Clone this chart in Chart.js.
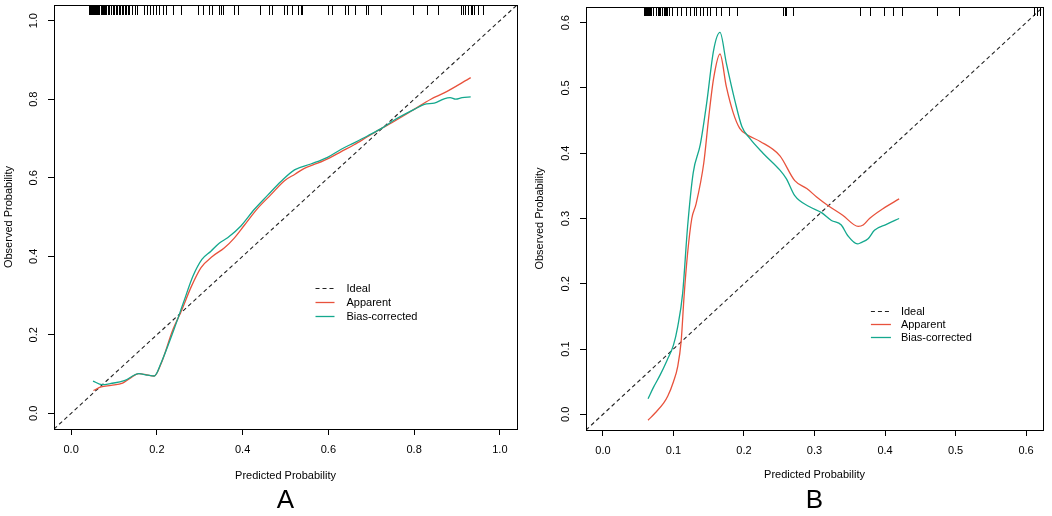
<!DOCTYPE html>
<html>
<head>
<meta charset="utf-8">
<script src="https://cdn.jsdelivr.net/npm/chart.js@4.4.1/dist/chart.umd.min.js"></script>
<style>
  html, body { margin: 0; padding: 0; background: #fff; }
  #wrap { position: relative; width: 1052px; height: 516px; overflow: hidden; }
  .pane { position: absolute; top: 0; width: 526px; height: 516px; }
</style>
</head>
<body>
<div id="wrap">
  <div class="pane" style="left:0"><canvas id="chartA" width="526" height="516"></canvas></div>
  <div class="pane" style="left:526px"><canvas id="chartB" width="526" height="516"></canvas></div>
</div>
<script>
// ---------------- Panel A data ----------------
const aTicks = [0, 0.2, 0.4, 0.6, 0.8, 1.0];
const aRange = [-0.04, 1.04];
const aAppX = [0.052, 0.070, 0.093, 0.120, 0.136, 0.158, 0.171, 0.194, 0.210, 0.237, 0.256, 0.280, 0.303, 0.330, 0.357, 0.381, 0.404, 0.435, 0.466, 0.497, 0.522, 0.544, 0.575, 0.602, 0.629, 0.660, 0.692, 0.726, 0.754, 0.800, 0.839, 0.870, 0.932];
const aAppY = [0.058, 0.067, 0.071, 0.077, 0.088, 0.101, 0.099, 0.095, 0.127, 0.212, 0.258, 0.322, 0.371, 0.400, 0.421, 0.447, 0.479, 0.522, 0.557, 0.592, 0.609, 0.624, 0.637, 0.650, 0.666, 0.684, 0.705, 0.727, 0.744, 0.774, 0.800, 0.816, 0.855];
const aBiasX = [0.051, 0.072, 0.093, 0.124, 0.158, 0.179, 0.194, 0.210, 0.240, 0.262, 0.284, 0.305, 0.326, 0.346, 0.365, 0.396, 0.427, 0.458, 0.490, 0.521, 0.559, 0.598, 0.629, 0.660, 0.692, 0.726, 0.754, 0.800, 0.824, 0.847, 0.870, 0.884, 0.897, 0.912, 0.932];
const aBiasY = [0.082, 0.073, 0.076, 0.083, 0.101, 0.097, 0.095, 0.129, 0.214, 0.282, 0.349, 0.392, 0.413, 0.434, 0.447, 0.477, 0.519, 0.555, 0.591, 0.620, 0.635, 0.652, 0.672, 0.689, 0.707, 0.727, 0.747, 0.774, 0.787, 0.790, 0.801, 0.804, 0.800, 0.804, 0.806];
const aRug = [0.042, 0.044, 0.047, 0.049, 0.051, 0.054, 0.056, 0.058, 0.061, 0.063, 0.065,
  0.070, 0.072, 0.075, 0.077, 0.079, 0.082, 0.085, 0.087, 0.089, 0.092, 0.094, 0.097, 0.099, 0.101,
  0.104, 0.106, 0.108, 0.111, 0.113, 0.115, 0.118, 0.120, 0.122, 0.126, 0.129, 0.132, 0.136,
  0.142, 0.150, 0.153, 0.171, 0.177, 0.183, 0.190, 0.197, 0.204, 0.215, 0.221, 0.238, 0.256,
  0.295, 0.307, 0.322, 0.328, 0.346, 0.350, 0.354, 0.381, 0.390, 0.441, 0.462, 0.468, 0.496, 0.503,
  0.514, 0.530, 0.535, 0.538, 0.598, 0.608, 0.639, 0.645, 0.662, 0.688, 0.692, 0.723, 0.798, 0.830,
  0.855, 0.909, 0.913, 0.918, 0.925, 0.932, 0.936, 0.940, 0.950, 0.960];

// ---------------- Panel B data ----------------
const bTicks = [0, 0.1, 0.2, 0.3, 0.4, 0.5, 0.6];
const bRange = [-0.024, 0.624];
const bAppX = [0.064, 0.074, 0.086, 0.092, 0.100, 0.106, 0.111, 0.115, 0.120, 0.126, 0.132, 0.143, 0.150, 0.157, 0.166, 0.175, 0.185, 0.194, 0.205, 0.223, 0.251, 0.272, 0.289, 0.303, 0.319, 0.340, 0.362, 0.369, 0.378, 0.397, 0.420];
const bAppY = [-0.009, 0.002, 0.017, 0.028, 0.050, 0.073, 0.113, 0.180, 0.246, 0.300, 0.322, 0.385, 0.455, 0.515, 0.552, 0.502, 0.461, 0.438, 0.428, 0.418, 0.396, 0.358, 0.346, 0.333, 0.320, 0.305, 0.288, 0.290, 0.300, 0.315, 0.330];
const bBiasX = [0.064, 0.072, 0.081, 0.091, 0.100, 0.106, 0.113, 0.120, 0.128, 0.138, 0.147, 0.157, 0.166, 0.175, 0.187, 0.197, 0.208, 0.227, 0.251, 0.260, 0.272, 0.293, 0.310, 0.324, 0.338, 0.347, 0.361, 0.366, 0.376, 0.385, 0.402, 0.420];
const bBiasY = [0.024, 0.042, 0.060, 0.083, 0.106, 0.134, 0.185, 0.287, 0.370, 0.413, 0.476, 0.558, 0.585, 0.538, 0.481, 0.441, 0.423, 0.400, 0.374, 0.361, 0.335, 0.318, 0.309, 0.297, 0.290, 0.274, 0.261, 0.263, 0.269, 0.282, 0.291, 0.300];
const bRug = [0.0585, 0.060, 0.0615, 0.063, 0.0643, 0.066, 0.0673, 0.0688, 0.0717, 0.075, 0.0783, 0.0797, 0.081,
  0.0844, 0.0868, 0.0882, 0.0896, 0.0915, 0.0938, 0.0985, 0.1056, 0.111, 0.1174, 0.123, 0.129, 0.1325,
  0.1377, 0.142, 0.147, 0.152, 0.161, 0.168, 0.179, 0.1905,
  0.256, 0.258, 0.260, 0.270, 0.364, 0.378, 0.399, 0.411, 0.424, 0.474, 0.505, 0.611, 0.615, 0.620];

const seriesNames = ['Ideal', 'Apparent', 'Bias-corrected'];
const xTitle = 'Predicted Probability';
const yTitle = 'Observed Probability';
const panelLabels = ['A', 'B'];

// ---------------- styling ----------------
const FONT = '"Liberation Sans", Arial, Helvetica, sans-serif';
const TXT = '#000';
const RED = '#E8523C';
const TEAL = '#14A88E';

const pairs = (xs, ys) => xs.map((v, i) => ({ x: v, y: ys[i] }));
const fmt = v => Number(v).toFixed(1);

const rPlot = {
  id: 'rPlot',
  afterDraw(chart, args, opts) {
    const { ctx, chartArea: ca } = chart;
    const xs = chart.scales.x, ys = chart.scales.y;
    ctx.save();
    // frame box
    ctx.strokeStyle = '#000';
    ctx.lineWidth = 1;
    ctx.setLineDash([]);
    ctx.strokeRect(Math.round(ca.left) + 0.5, Math.round(ca.top) + 0.5,
      Math.round(ca.right - ca.left), Math.round(ca.bottom - ca.top));
    // rug along the top
    ctx.beginPath();
    ctx.strokeStyle = '#000';
    opts.rug.forEach(v => {
      const px = Math.round(xs.getPixelForValue(v)) + 0.5;
      ctx.moveTo(px, ca.top);
      ctx.lineTo(px, ca.top + opts.rugLength);
    });
    ctx.stroke();
    // rotated y tick labels (R style, las = 0)
    ctx.fillStyle = TXT;
    ctx.font = '11px ' + FONT;
    ctx.textAlign = 'center';
    ctx.textBaseline = 'middle';
    ys.ticks.forEach(t => {
      const py = ys.getPixelForValue(t.value);
      ctx.save();
      ctx.translate(ca.left - opts.yLabelOffset, py);
      ctx.rotate(-Math.PI / 2);
      ctx.fillText(fmt(t.value), 0, 0);
      ctx.restore();
    });
    // legend inside plot (R legend at data coordinates)
    const L = opts.legend;
    const lx = xs.getPixelForValue(L.x);
    const ly = ys.getPixelForValue(L.y);
    chart.data.datasets.forEach((ds, i) => {
      const yy = Math.round(ly + i * L.rowGap) + 0.5;
      ctx.beginPath();
      ctx.setLineDash(ds.borderDash || []);
      ctx.strokeStyle = ds.borderColor;
      ctx.lineWidth = ds.borderWidth;
      ctx.moveTo(lx, yy);
      ctx.lineTo(lx + L.lineLen, yy);
      ctx.stroke();
      ctx.setLineDash([]);
      ctx.fillStyle = TXT;
      ctx.textAlign = 'left';
      ctx.textBaseline = 'middle';
      ctx.fillText(ds.label, lx + L.textGap, yy);
    });
    ctx.restore();
  }
};

function makeChart(id, cfg) {
  const [mn, mx] = cfg.range;
  const axisCommon = (ticksArr) => ({
    type: 'linear',
    min: mn,
    max: mx,
    afterBuildTicks: s => { s.ticks = ticksArr.map(v => ({ value: v })); },
    grid: { display: true, drawOnChartArea: false, drawTicks: true, tickLength: 6, color: '#000', lineWidth: 1 },
    border: { display: true, color: '#000', width: 1 },
  });
  return new Chart(document.getElementById(id), {
    type: 'line',
    data: {
      datasets: [
        { label: seriesNames[0], data: pairs(cfg.range, cfg.range), borderColor: '#222', borderWidth: 1.1, borderDash: [4, 3], pointRadius: 0, order: 3 },
        { label: seriesNames[1], data: pairs(cfg.appX, cfg.appY), borderColor: RED, borderWidth: 1.3, pointRadius: 0, cubicInterpolationMode: 'monotone', order: 2 },
        { label: seriesNames[2], data: pairs(cfg.biasX, cfg.biasY), borderColor: TEAL, borderWidth: 1.3, pointRadius: 0, cubicInterpolationMode: 'monotone', order: 1 },
      ]
    },
    options: {
      responsive: false,
      animation: false,
      events: [],
      layout: { padding: { top: cfg.padTop, right: 9, left: 0, bottom: 0 } },
      scales: {
        x: Object.assign(axisCommon(cfg.ticks), {
          position: 'bottom',
          ticks: { callback: v => fmt(v), autoSkip: false, maxRotation: 0, minRotation: 0, padding: 8, color: TXT, font: { family: FONT, size: 11 } },
          title: { display: true, text: xTitle, color: TXT, font: { family: FONT, size: 11 }, padding: { top: 0, bottom: cfg.xTitlePad } },
          afterFit: s => { s.height = cfg.xHeight; }
        }),
        y: Object.assign(axisCommon(cfg.ticks), {
          position: 'left',
          ticks: { display: false },
          title: { display: true, text: yTitle, color: TXT, font: { family: FONT, size: 11 }, padding: { top: cfg.yTitlePad, bottom: 0 } },
          afterFit: s => { s.width = cfg.yWidth; }
        })
      },
      plugins: {
        legend: { display: false },
        tooltip: { enabled: false },
        title: { display: true, fullSize: false, text: cfg.label, position: 'bottom', color: '#000', font: { family: FONT, size: 26, weight: 'normal' }, padding: { top: 0, bottom: 0 } },
        rPlot: { rug: cfg.rug, rugLength: cfg.rugLength, yLabelOffset: 20, legend: cfg.legend }
      }
    },
    plugins: [rPlot]
  });
}

makeChart('chartA', {
  range: aRange, ticks: aTicks, appX: aAppX, appY: aAppY, biasX: aBiasX, biasY: aBiasY, rug: aRug,
  label: panelLabels[0], padTop: 5, xHeight: 55.8, yWidth: 54, xTitlePad: 2, yTitlePad: 2, rugLength: 10,
  legend: { x: 0.57, y: 0.318, rowGap: 13.6, lineLen: 19, textGap: 31 }
});
makeChart('chartB', {
  range: bRange, ticks: bTicks, appX: bAppX, appY: bAppY, biasX: bBiasX, biasY: bBiasY, rug: bRug,
  label: panelLabels[1], padTop: 7, xHeight: 54.8, yWidth: 60, xTitlePad: 3, yTitlePad: 7, rugLength: 9,
  legend: { x: 0.38, y: 0.158, rowGap: 12.7, lineLen: 20, textGap: 30 }
});
</script>
</body>
</html>
